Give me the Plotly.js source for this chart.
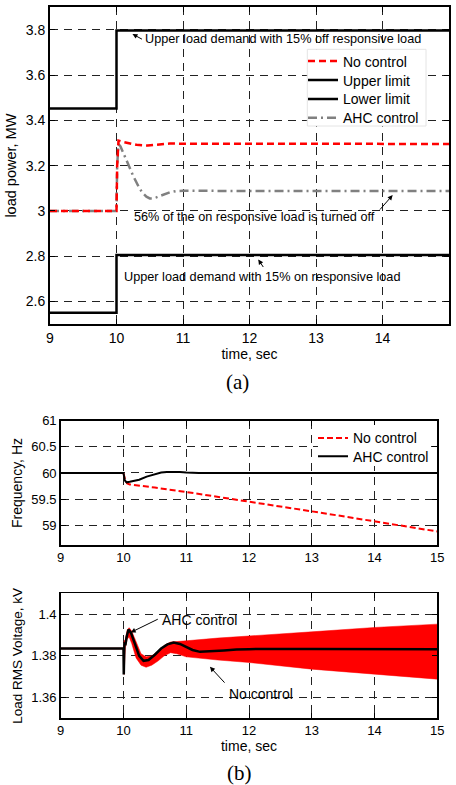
<!DOCTYPE html>
<html>
<head>
<meta charset="utf-8">
<script src="https://cdn.plot.ly/plotly-3.0.1.min.js"></script>
<style>html,body{margin:0;padding:0;background:#fff;}#chart{width:456px;height:785px;}</style>
</head>
<body>
<div id="chart"></div>
<script>
// ---------- Data ----------
// (a) load power, MW
const limT = [9, 10, 10, 15];
const upperLimit = [3.453, 3.453, 3.797, 3.797];
const lowerLimit = [2.55, 2.55, 2.805, 2.805];

const ncT = [9, 10, 10.01, 10.03, 10.1, 10.2, 10.3, 10.47, 10.6, 10.8, 11, 12, 13, 14, 15];
const ncPower = [3.0, 3.0, 3.2, 3.311, 3.305, 3.3, 3.292, 3.289, 3.293, 3.298, 3.297, 3.296, 3.296, 3.296, 3.296];

const ahcT = [9, 10, 10.01, 10.03, 10.06, 10.1, 10.15, 10.2, 10.25, 10.3, 10.35, 10.4, 10.45, 10.5, 10.55, 10.6, 10.7, 10.8, 10.9, 11, 12, 13, 14, 15];
const ahcPower = [3.0, 3.0, 3.2, 3.295, 3.285, 3.26, 3.225, 3.19, 3.155, 3.125, 3.097, 3.077, 3.063, 3.055, 3.055, 3.06, 3.071, 3.082, 3.088, 3.089, 3.088, 3.088, 3.088, 3.088];

// (b) frequency, Hz
const fNcT = [9, 10, 10.03, 10.06, 10.1, 10.3, 10.5, 11, 11.5, 12, 12.5, 13, 13.5, 14, 14.5, 15];
const fNc = [60, 60, 59.85, 59.8, 59.78, 59.755, 59.72, 59.635, 59.545, 59.455, 59.36, 59.265, 59.17, 59.075, 58.975, 58.88];
const fAhcT = [9, 10, 10.02, 10.05, 10.1, 10.16, 10.25, 10.37, 10.45, 10.53, 10.6, 10.69, 10.8, 10.9, 11, 11.2, 12, 12.15, 12.25, 12.35, 13, 14, 15];
const fAhc = [60, 60, 59.86, 59.82, 59.83, 59.85, 59.87, 59.93, 59.96, 59.99, 60.01, 60.02, 60.025, 60.02, 60.01, 60.0, 60.0, 60.0, 60.01, 60.0, 60, 60, 60];

// (b) load RMS voltage, kV
const vBandT = [9, 10.0, 10.01, 10.03, 10.06, 10.09, 10.13, 10.2, 10.28, 10.36, 10.45, 10.55, 10.65, 10.75, 10.85, 11, 11.5, 12, 13, 14, 15];
const vNcUpper = [1.3837, 1.3837, 1.387, 1.388, 1.3925, 1.3935, 1.392, 1.387, 1.381, 1.3795, 1.380, 1.382, 1.385, 1.3866, 1.3868, 1.3872, 1.3885, 1.3896, 1.3915, 1.3936, 1.3952];
const vNcLower = [1.3833, 1.3833, 1.371, 1.384, 1.388, 1.389, 1.386, 1.379, 1.3755, 1.3745, 1.3755, 1.3775, 1.380, 1.3815, 1.381, 1.3795, 1.378, 1.3768, 1.3736, 1.3712, 1.3688];
const vAhcT = [9, 10, 10.005, 10.015, 10.03, 10.05, 10.08, 10.12, 10.18, 10.25, 10.32, 10.4, 10.5, 10.6, 10.7, 10.8, 10.9, 11.0, 11.1, 11.22, 11.4, 11.6, 11.8, 12, 13, 14, 15];
const vAhc = [1.3835, 1.3835, 1.371, 1.3865, 1.385, 1.389, 1.3926, 1.391, 1.386, 1.380, 1.3776, 1.378, 1.3805, 1.3835, 1.3855, 1.3864, 1.3857, 1.3842, 1.3828, 1.3819, 1.3821, 1.3826, 1.383, 1.3832, 1.3833, 1.3832, 1.3832];

// Tick labels
const xTicks = [9, 10, 11, 12, 13, 14, 15];
const xTickText = ['9', '10', '11', '12', '13', '14', '15'];
const pTicks = [2.6, 2.8, 3.0, 3.2, 3.4, 3.6, 3.8];
const pTickText = ['2.6', '2.8', '3', '3.2', '3.4', '3.6', '3.8'];
const fTicks = [59, 59.5, 60, 60.5, 61];
const fTickText = ['59', '59.5', '60', '60.5', '61'];
const vTicks = [1.36, 1.38, 1.40];
const vTickText = ['1.36', '1.38', '1.4'];

// ---------- Layout helpers ----------
const W = 456, H = 785;
const px = v => v / W;          // x pixel -> paper
const py = v => 1 - v / H;      // y pixel -> paper
const FONT = 'Liberation Sans, Arial, Helvetica, sans-serif';
const RED = '#ff0000';

const traces = [
  // (a)
  {x: ahcT, y: ahcPower, xaxis: 'x', yaxis: 'y', mode: 'lines', name: 'AHC control', legend: 'legend4',
   line: {color: '#808080', width: 2.5, dash: '9px,4px,2px,4px'}},
  {x: ncT, y: ncPower, xaxis: 'x', yaxis: 'y', mode: 'lines', name: 'No control', legend: 'legend',
   line: {color: RED, width: 2.5, dash: '7px,4px'}},
  {x: limT, y: upperLimit, xaxis: 'x', yaxis: 'y', mode: 'lines', name: 'Upper limit', legend: 'legend2',
   line: {color: '#000', width: 2.5}},
  {x: limT, y: lowerLimit, xaxis: 'x', yaxis: 'y', mode: 'lines', name: 'Lower limit', legend: 'legend3',
   line: {color: '#000', width: 2.5}},
  // (b) frequency
  {x: fNcT, y: fNc, xaxis: 'x2', yaxis: 'y2', mode: 'lines', name: 'No control', legend: 'legend5',
   line: {color: RED, width: 2, dash: '6px,3px'}},
  {x: fAhcT, y: fAhc, xaxis: 'x2', yaxis: 'y2', mode: 'lines', name: 'AHC control', legend: 'legend6',
   line: {color: '#000', width: 2}},
  // (b) voltage
  {x: vBandT, y: vNcLower, xaxis: 'x3', yaxis: 'y3', mode: 'lines', showlegend: false, hoverinfo: 'skip',
   line: {color: RED, width: 0.5}},
  {x: vBandT, y: vNcUpper, xaxis: 'x3', yaxis: 'y3', mode: 'lines', showlegend: false, fill: 'tonexty',
   fillcolor: RED, line: {color: RED, width: 0.5}},
  {x: vAhcT, y: vAhc, xaxis: 'x3', yaxis: 'y3', mode: 'lines', showlegend: false,
   line: {color: '#000', width: 2.5}}
];

function xAxis(dom, anchor, fs, lw, title) {
  return {
    domain: dom, anchor: anchor, range: [9, 15], tickvals: xTicks, ticktext: xTickText,
    showgrid: true, gridcolor: '#222', gridwidth: 1, griddash: '8px,6px',
    zeroline: false, showline: true, linecolor: '#000', linewidth: lw, mirror: 'ticks',
    ticks: 'inside', ticklen: 5, tickwidth: 1, tickcolor: '#000',
    tickfont: {family: FONT, size: fs, color: '#000'},
    title: title ? {text: title, font: {family: FONT, size: 14, color: '#000'}, standoff: 4} : {text: ''},
    fixedrange: true
  };
}
function yAxis(dom, anchor, range, tv, tt, fs, lw, title, tsize, standoff) {
  return {
    domain: dom, anchor: anchor, range: range, tickvals: tv, ticktext: tt,
    showgrid: true, gridcolor: '#222', gridwidth: 1, griddash: '8px,6px',
    zeroline: false, showline: true, linecolor: '#000', linewidth: lw, mirror: 'ticks',
    ticks: 'inside', ticklen: 5, tickwidth: 1, tickcolor: '#000',
    tickfont: {family: FONT, size: fs, color: '#000'},
    title: {text: title, font: {family: FONT, size: tsize, color: '#000'}, standoff: standoff},
    fixedrange: true
  };
}
function leg(xp, yp, fs) {
  return {x: px(xp), y: py(yp), xanchor: 'left', yanchor: 'middle', bgcolor: 'rgba(0,0,0,0)',
          borderwidth: 0, font: {family: FONT, size: fs, color: '#000'}, itemclick: false, itemdoubleclick: false};
}

const annFont = {family: FONT, size: 12.7, color: '#000'};
const annFont3 = {family: FONT, size: 14, color: '#000'};

const layout = {
  width: W, height: H,
  margin: {l: 0, r: 0, t: 0, b: 0},
  paper_bgcolor: '#fff', plot_bgcolor: '#fff',
  font: {family: FONT, color: '#000'},
  xaxis: xAxis([px(50), px(449)], 'y', 14, 2, 'time, sec'),
  yaxis: yAxis([py(324), py(7.3)], 'x', [2.5, 3.9], pTicks, pTickText, 14, 2, 'load power, MW', 14.5, 6),
  xaxis2: xAxis([px(60.7), px(437.3)], 'y2', 13, 1.5, ''),
  yaxis2: yAxis([py(545.3), py(420.7)], 'x2', [58.615, 61], fTicks, fTickText, 13, 1.5, 'Frequency, Hz', 14, 5),
  xaxis3: xAxis([px(60.7), px(437.3)], 'y3', 13, 1.5, 'time, sec'),
  yaxis3: yAxis([py(718.3), py(593.3)], 'x3', [1.35, 1.41], vTicks, vTickText, 13, 1.5, 'Load RMS Voltage, kV', 13.5, 5),
  legend: leg(303, 61.5, 14),
  legend2: leg(303, 80.5, 14),
  legend3: leg(303, 99.3, 14),
  legend4: leg(303, 118.2, 14),
  legend5: leg(313, 438.3, 14),
  legend6: leg(313, 456.7, 14),
  shapes: [
    {type: 'rect', xref: 'paper', yref: 'paper', x0: px(307.3), x1: px(426), y0: py(126), y1: py(49.3),
     fillcolor: '#fff', line: {color: '#e4e4e4', width: 1}, layer: 'above'},
    {type: 'rect', xref: 'paper', yref: 'paper', x0: px(318), x1: px(431), y0: py(466), y1: py(425),
     fillcolor: '#fff', line: {width: 0}, layer: 'above'}
  ],
  annotations: [
    // (a)
    {xref: 'x', yref: 'y', x: 10.24, y: 3.782, ax: 11, ay: 6, text: '', showarrow: true,
     arrowhead: 2, arrowsize: 1, arrowwidth: 1, arrowcolor: '#000', standoff: 0},
    {xref: 'x', yref: 'y', x: 10.41, y: 3.759, text: 'Upper load demand with 15% off responsive load',
     showarrow: false, xanchor: 'left', yanchor: 'middle', font: annFont, borderpad: 0},
    {xref: 'x', yref: 'y', x: 14.153, y: 3.07, ax: -14, ay: 16, text: '', showarrow: true,
     arrowhead: 2, arrowsize: 1, arrowwidth: 1, arrowcolor: '#000', standoff: 0},
    {xref: 'x', yref: 'y', x: 10.248, y: 2.975, text: '56% of the on responsive load is turned off',
     showarrow: false, xanchor: 'left', yanchor: 'middle', font: annFont, borderpad: 0},
    {xref: 'x', yref: 'y', x: 12.132, y: 2.785, ax: 6, ay: 9, text: '', showarrow: true,
     arrowhead: 2, arrowsize: 1, arrowwidth: 1, arrowcolor: '#000', standoff: 0},
    {xref: 'x', yref: 'y', x: 10.102, y: 2.707, text: 'Upper load demand with 15% on responsive load',
     showarrow: false, xanchor: 'left', yanchor: 'middle', font: annFont, borderpad: 0},
    // (b) voltage
    {xref: 'x3', yref: 'y3', x: 10.115, y: 1.3912, ax: 28.6, ay: -14, text: '', showarrow: true,
     arrowhead: 2, arrowsize: 1, arrowwidth: 1, arrowcolor: '#000', standoff: 0},
    {xref: 'x3', yref: 'y3', x: 10.598, y: 1.3973, text: 'AHC control',
     showarrow: false, xanchor: 'left', yanchor: 'middle', font: annFont3, borderpad: 0},
    {xref: 'x3', yref: 'y3', x: 11.378, y: 1.3747, ax: 16, ay: 17.3, text: '', showarrow: true,
     arrowhead: 2, arrowsize: 1, arrowwidth: 1, arrowcolor: '#000', standoff: 0},
    {xref: 'x3', yref: 'y3', x: 11.66, y: 1.3619, text: 'No control',
     showarrow: false, xanchor: 'left', yanchor: 'middle', font: annFont3, borderpad: 0},
    // panel labels
    {xref: 'paper', yref: 'paper', x: px(237), y: py(381.7), text: '(a)', showarrow: false,
     xanchor: 'center', yanchor: 'middle', font: {family: 'Liberation Serif, Times New Roman, serif', size: 21, color: '#000'}},
    {xref: 'paper', yref: 'paper', x: px(239), y: py(773), text: '(b)', showarrow: false,
     xanchor: 'center', yanchor: 'middle', font: {family: 'Liberation Serif, Times New Roman, serif', size: 21, color: '#000'}}
  ]
};

Plotly.newPlot('chart', traces, layout, {staticPlot: true, displayModeBar: false});
</script>
</body>
</html>
